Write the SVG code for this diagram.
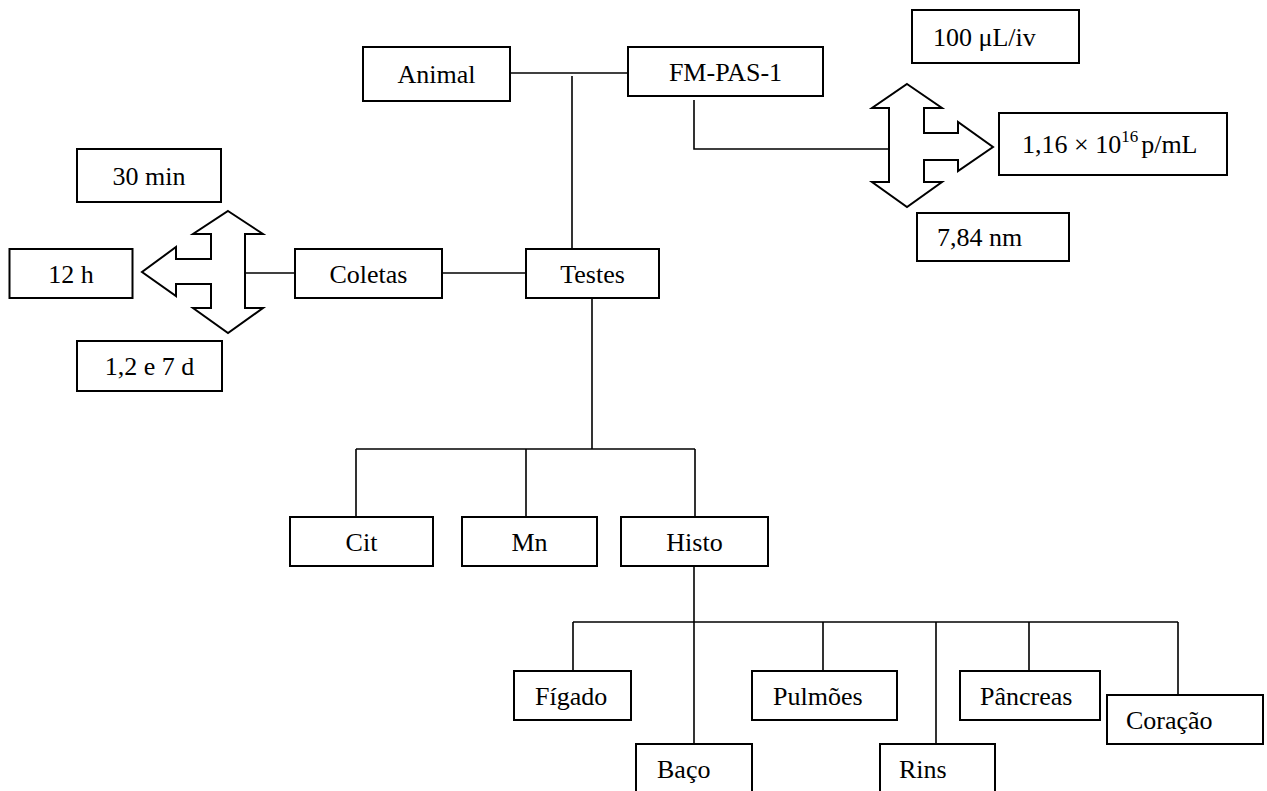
<svg xmlns="http://www.w3.org/2000/svg" width="1267" height="791" viewBox="0 0 1267 791">
<style>
.box{fill:#fff;stroke:#000;stroke-width:2}
.t{font-family:"Liberation Serif","Times New Roman",serif;font-size:26px;fill:#000}
.m{text-anchor:middle}
.ln{fill:none;stroke:#000;stroke-width:1.6}
.arr{fill:#fff;stroke:#000;stroke-width:2;stroke-linejoin:miter}
</style>
<rect width="1267" height="791" fill="#fff"/>
<g id="connectors">
<path class="ln" d="M510,73H628"/>
<path class="ln" d="M572,76V249"/>
<path class="ln" d="M694,100V149H889"/>
<path class="ln" d="M245,273H295"/>
<path class="ln" d="M442,273H526"/>
<path class="ln" d="M592,298V449"/>
<path class="ln" d="M356,449H695"/>
<path class="ln" d="M356,449V517M526,449V517M695,449V517"/>
<path class="ln" d="M694,566V744"/>
<path class="ln" d="M573,622H1178"/>
<path class="ln" d="M573,622V671M823,622V671M936,622V744M1029,622V671M1178,622V695"/>
</g>
<g id="arrow-right">
<polygon class="arr" points="907,84 942,108 924,108 924,133 958,133 958,122 993,147 958,171 958,160 924,160 924,182 942,182 907,207 872,182 889,182 889,108 872,108"/>
</g>
<g id="arrow-left">
<polygon class="arr" points="228,211 263,234 245,234 245,308 263,308 228,333 193,308 211,308 211,284 176,284 176,296 142,272 176,247 176,259 211,259 211,234 193,234"/>
</g>
<g id="animal"><rect class="box" x="363" y="47" width="147" height="54"/><text class="t m" x="436.5" y="83">Animal</text></g>
<g id="fmpas"><rect class="box" x="628" y="47" width="195" height="49"/><text class="t m" x="725.5" y="80.5">FM-PAS-1</text></g>
<g id="dose"><rect class="box" x="912" y="10" width="167" height="53"/><text class="t" x="933" y="45.5">100 μL/iv</text></g>
<g id="conc"><rect class="box" x="999" y="113" width="228" height="62"/><text class="t" x="1022" y="153">1,16 × 10<tspan font-size="17" dy="-11">16</tspan><tspan dy="11" dx="3">p/mL</tspan></text></g>
<g id="size"><rect class="box" x="917" y="213" width="152" height="48"/><text class="t" x="937" y="246">7,84 nm</text></g>
<g id="t30"><rect class="box" x="77" y="149" width="144" height="53"/><text class="t m" x="149" y="184.5">30 min</text></g>
<g id="t12"><rect class="box" x="9.5" y="249" width="123" height="49"/><text class="t m" x="71" y="282.5">12 h</text></g>
<g id="tdays"><rect class="box" x="77" y="341" width="145" height="50"/><text class="t m" x="149.5" y="375">1,2 e 7 d</text></g>
<g id="coletas"><rect class="box" x="295" y="249" width="147" height="49"/><text class="t m" x="368.5" y="282.5">Coletas</text></g>
<g id="testes"><rect class="box" x="526" y="249" width="133" height="49"/><text class="t m" x="592.5" y="282.5">Testes</text></g>
<g id="cit"><rect class="box" x="290" y="517" width="143" height="49"/><text class="t m" x="361.5" y="550.5">Cit</text></g>
<g id="mn"><rect class="box" x="462" y="517" width="135" height="49"/><text class="t m" x="529.5" y="550.5">Mn</text></g>
<g id="histo"><rect class="box" x="621" y="517" width="147" height="49"/><text class="t m" x="694.5" y="550.5">Histo</text></g>
<g id="figado"><rect class="box" x="514" y="671" width="117" height="49"/><text class="t" x="535" y="705">Fígado</text></g>
<g id="baco"><rect class="box" x="636" y="744" width="116" height="52"/><text class="t" x="657" y="778">Baço</text></g>
<g id="pulmoes"><rect class="box" x="752" y="671" width="145" height="49"/><text class="t" x="773" y="705">Pulmões</text></g>
<g id="rins"><rect class="box" x="880" y="744" width="115" height="52"/><text class="t" x="899" y="778">Rins</text></g>
<g id="pancreas"><rect class="box" x="960" y="671" width="140" height="49"/><text class="t" x="980" y="705">Pâncreas</text></g>
<g id="coracao"><rect class="box" x="1107" y="695" width="156" height="49"/><text class="t" x="1126" y="729">Coração</text></g>
</svg>
